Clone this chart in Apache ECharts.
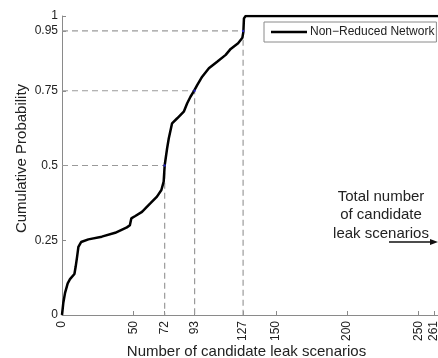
<!DOCTYPE html>
<html>
<head>
<meta charset="utf-8">
<script src="https://cdn.jsdelivr.net/npm/echarts@6/dist/echarts.min.js"></script>
<style>
  html, body { margin: 0; padding: 0; background: #fff; }
  #chart { width: 438px; height: 358px; }
</style>
</head>
<body>
<div id="chart"></div>
<script>
// cumulative distribution
const cdfX = [0, 0.9, 2.1, 4, 5.6, 8.7, 9.6, 10.6, 11.5, 13.4, 18.5, 27.9, 37.3, 45.5, 47.6, 48.6, 51.4, 56.1, 61.9, 66.6, 69.7, 71.3, 72, 73.7, 74.9, 77.2, 80.8, 85.4, 87.8, 90.1, 92.5, 94.8, 98.3, 103, 108.8, 114.8, 118.3, 123.5, 126.5, 127.2, 127.6, 128.8, 270];
const cdfY = [0, 0.04, 0.073, 0.106, 0.12, 0.137, 0.162, 0.195, 0.228, 0.244, 0.253, 0.262, 0.275, 0.293, 0.3, 0.323, 0.331, 0.345, 0.373, 0.396, 0.418, 0.446, 0.5, 0.557, 0.591, 0.641, 0.658, 0.68, 0.708, 0.73, 0.749, 0.769, 0.797, 0.825, 0.847, 0.87, 0.89, 0.909, 0.927, 0.947, 0.992, 1, 1];

// dashed guides (quantiles)
const guideX = [72, 93, 127];
const guideY = [0.5, 0.75, 0.95];

const xTicks = [0, 50, 72, 93, 127, 150, 200, 250, 261];
const yTicks = [0, 0.25, 0.5, 0.75, 0.95, 1];

const seriesName = 'Non\u2212Reduced Network';
const noteLines = ['Total number', 'of candidate', 'leak scenarios'];

const font = '"Liberation Sans", Arial, sans-serif';
const axisGray = '#8a8a8a';

const chart = echarts.init(document.getElementById('chart'));

const guideSeries = guideX.map((gx, i) => ({
  type: 'line',
  silent: true,
  symbol: 'none',
  data: [[0, guideY[i]], [gx, guideY[i]], [gx, 0]],
  lineStyle: { color: '#9a9a9a', width: 1.2, type: [6, 4] },
  z: 1
}));

// annotation on the right
const noteGraphics = noteLines.map((t, i) => ({
  type: 'text',
  x: 381,
  y: 189 + i * 18.5,
  style: { text: t, fontFamily: font, fontSize: 15, fill: '#222', textAlign: 'center' }
})).concat([
  { type: 'line', shape: { x1: 389, y1: 242, x2: 432, y2: 242 }, style: { stroke: '#111', lineWidth: 1.3 } },
  { type: 'polygon', shape: { points: [[430, 239], [438, 242], [430, 245]] }, style: { fill: '#111' } }
]);

const option = {
  animation: false,
  backgroundColor: '#fff',
  grid: { left: 62, top: 16, bottom: 43, right: -9, containLabel: false, outerBoundsMode: 'none' },
  legend: {
    data: [{ name: seriesName, icon: 'rect' }],
    left: 264,
    top: 22,
    orient: 'horizontal',
    backgroundColor: '#fff',
    borderColor: '#8a8a8a',
    borderWidth: 1,
    borderRadius: 0,
    padding: [4, 2, 4, 7],
    itemWidth: 36,
    itemHeight: 2.5,
    itemGap: 4,
    itemStyle: { color: '#000' },
    textStyle: { fontFamily: font, fontSize: 12, color: '#222', padding: [0, 0, 0, -2] }
  },
  xAxis: {
    type: 'value',
    min: 0,
    max: 270,
    name: 'Number of candidate leak scenarios',
    nameLocation: 'middle',
    nameGap: 29,
    nameMoveOverlap: false,
    nameTextStyle: { fontFamily: font, fontSize: 15, color: '#222', padding: [0, 16, 0, 0] },
    axisLine: { show: true, lineStyle: { color: axisGray, width: 1 } },
    axisTick: { show: true, inside: true, length: 4, customValues: xTicks, lineStyle: { color: axisGray } },
    axisLabel: {
      customValues: xTicks,
      rotate: 90,
      margin: 6,
      fontFamily: font,
      fontSize: 12,
      color: '#222'
    },
    splitLine: { show: false }
  },
  yAxis: {
    type: 'value',
    min: 0,
    max: 1,
    name: 'Cumulative Probability',
    nameLocation: 'middle',
    nameGap: 33,
    nameMoveOverlap: false,
    nameTextStyle: { fontFamily: font, fontSize: 15, color: '#222', padding: [0, 0, 0, 14] },
    axisLine: { show: true, lineStyle: { color: axisGray, width: 1 } },
    axisTick: { show: true, inside: true, length: 4, customValues: yTicks, lineStyle: { color: axisGray } },
    axisLabel: {
      customValues: yTicks,
      margin: 4,
      fontFamily: font,
      fontSize: 12,
      color: '#222'
    },
    splitLine: { show: false }
  },
  graphic: noteGraphics,
  series: guideSeries.concat([
    {
      type: 'scatter',
      silent: true,
      symbolSize: 2.5,
      data: guideX.map((gx, i) => [gx, guideY[i]]),
      itemStyle: { color: '#2a2ae0' },
      z: 4
    },
    {
      name: seriesName,
      type: 'line',
      symbol: 'none',
      data: cdfX.map((x, i) => [x, cdfY[i]]),
      lineStyle: { color: '#000', width: 2.5 },
      itemStyle: { color: '#000' },
      z: 3
    }
  ])
};

chart.setOption(option);
</script>
</body>
</html>
